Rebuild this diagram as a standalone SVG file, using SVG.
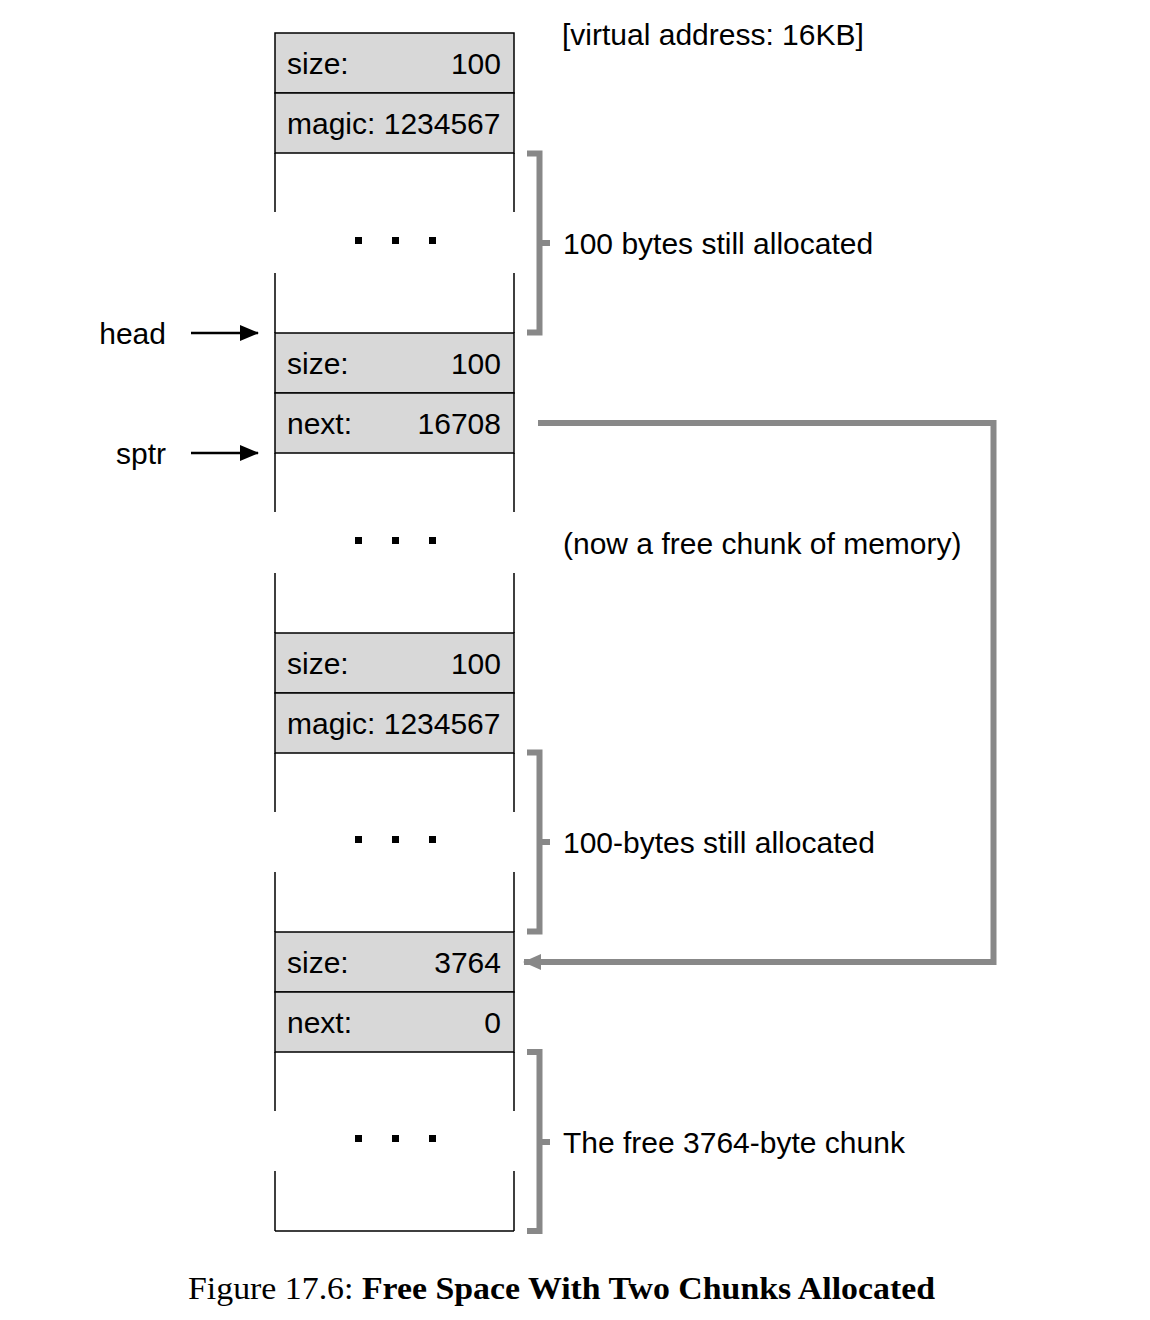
<svg xmlns="http://www.w3.org/2000/svg" width="1150" height="1320" viewBox="0 0 1150 1320">
<style>
  .cell{fill:#d8d8d8;stroke:#000;stroke-width:1.5}
  .side{stroke:#000;stroke-width:1.5;fill:none}
  .t{font-family:"Liberation Sans",Arial,Helvetica,sans-serif;font-size:30px;fill:#000}
  .r{text-anchor:end}
  .dot{fill:#000}
  .br{stroke:#888;stroke-width:6;fill:none}
  .ptr{stroke:#000;stroke-width:2.5;fill:none}
  .link{stroke:#888;stroke-width:6;fill:none}
  .cap{font-family:"Liberation Serif","Times New Roman",serif;font-size:31px;fill:#000}
</style>
<defs>
  <marker id="blk" markerUnits="userSpaceOnUse" markerWidth="20" markerHeight="20" refX="18" refY="10" orient="auto">
    <path d="M0,2 L19,10 L0,18 Z" fill="#000"/>
  </marker>
  <marker id="gry" markerUnits="userSpaceOnUse" markerWidth="20" markerHeight="20" refX="17" refY="10" orient="auto">
    <path d="M0,2 L18,10 L0,18 Z" fill="#888"/>
  </marker>
  <g id="dots">
    <rect x="-40" y="-3" width="7" height="7"/>
    <rect x="-3" y="-3" width="7" height="7"/>
    <rect x="34" y="-3" width="7" height="7"/>
  </g>
</defs>

<!-- chunk 1 (allocated) -->
<g id="chunk1">
  <rect class="cell" x="275" y="33" width="239" height="60"/>
  <text class="t" x="287" y="74">size:</text>
  <text class="t r" x="501" y="74">100</text>
  <rect class="cell" x="275" y="93" width="239" height="60"/>
  <text class="t" x="287" y="134">magic: 1234567</text>
  <path class="side" d="M275,153 V212 M514,153 V212 M275,273 V333 M514,273 V333"/>
  <use href="#dots" x="395" y="240" class="dot"/>
</g>

<!-- chunk 2 (free, head) -->
<g id="chunk2">
  <rect class="cell" x="275" y="333" width="239" height="60"/>
  <text class="t" x="287" y="374">size:</text>
  <text class="t r" x="501" y="374">100</text>
  <rect class="cell" x="275" y="393" width="239" height="60"/>
  <text class="t" x="287" y="434">next:</text>
  <text class="t r" x="501" y="434">16708</text>
  <path class="side" d="M275,453 V512 M514,453 V512 M275,573 V633 M514,573 V633"/>
  <use href="#dots" x="395" y="540" class="dot"/>
</g>

<!-- chunk 3 (allocated) -->
<g id="chunk3">
  <rect class="cell" x="275" y="633" width="239" height="60"/>
  <text class="t" x="287" y="674">size:</text>
  <text class="t r" x="501" y="674">100</text>
  <rect class="cell" x="275" y="693" width="239" height="60"/>
  <text class="t" x="287" y="734">magic: 1234567</text>
  <path class="side" d="M275,753 V812 M514,753 V812 M275,872 V932 M514,872 V932"/>
  <use href="#dots" x="395" y="839" class="dot"/>
</g>

<!-- chunk 4 (free) -->
<g id="chunk4">
  <rect class="cell" x="275" y="932" width="239" height="60"/>
  <text class="t" x="287" y="973">size:</text>
  <text class="t r" x="501" y="973">3764</text>
  <rect class="cell" x="275" y="992" width="239" height="60"/>
  <text class="t" x="287" y="1033">next:</text>
  <text class="t r" x="501" y="1033">0</text>
  <path class="side" d="M275,1052 V1111 M514,1052 V1111 M275,1171 V1231 M514,1171 V1231 M275,1231 H514"/>
  <use href="#dots" x="395" y="1138" class="dot"/>
</g>

<!-- labels -->
<g id="label-va"><text class="t" x="562" y="45">[virtual address: 16KB]</text></g>
<g id="label-head"><text class="t r" x="166" y="344">head</text></g>
<g id="label-sptr"><text class="t r" x="166" y="464">sptr</text></g>

<g id="brace1">
  <path class="br" d="M527,153.5 H539.5 V332.5 H527 M539.5,243 H550"/>
  <text class="t" x="563" y="254">100 bytes still allocated</text>
</g>
<g id="label-free">
  <text class="t" x="563" y="554">(now a free chunk of memory)</text>
</g>
<g id="brace2">
  <path class="br" d="M527,752.5 H539.5 V931.5 H527 M539.5,842 H550"/>
  <text class="t" x="563" y="853">100-bytes still allocated</text>
</g>
<g id="brace3">
  <path class="br" d="M527,1052 H539.5 V1231 H527 M539.5,1142 H550"/>
  <text class="t" x="563" y="1153">The free 3764-byte chunk</text>
</g>

<!-- connectors -->
<g id="connectors">
  <line class="ptr" x1="191" y1="333" x2="258" y2="333" marker-end="url(#blk)"/>
  <line class="ptr" x1="191" y1="453" x2="258" y2="453" marker-end="url(#blk)"/>
  <path class="link" d="M538,423 H993.5 V962 H524" marker-end="url(#gry)"/>
</g>

<g id="caption">
  <text class="cap" x="188" y="1299" textLength="747" lengthAdjust="spacingAndGlyphs">Figure 17.6: <tspan font-weight="bold">Free Space With Two Chunks Allocated</tspan></text>
</g>
</svg>
